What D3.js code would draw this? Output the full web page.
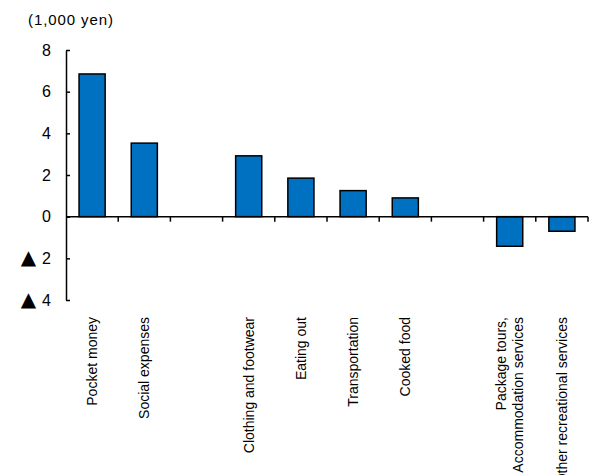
<!DOCTYPE html>
<html>
<head>
<meta charset="utf-8">
<script src="https://cdn.jsdelivr.net/npm/d3@7"></script>
<style>
  html, body { margin: 0; padding: 0; background: #fff; }
  svg { display: block; font-family: "Liberation Sans", Arial, sans-serif; }
</style>
</head>
<body>
<svg id="chart" width="590" height="475"></svg>
<script>
// Category slots along the x axis; empty strings leave a blank slot between groups.
const categories = [
  "Pocket money",
  "Social expenses",
  "",
  "Clothing and footwear",
  "Eating out",
  "Transportation",
  "Cooked food",
  "",
  "Package tours,\nAccommodation services",
  "Other recreational services"
];
// Change in spending, in thousands of yen (null = no bar).
const values = [6.85, 3.53, null, 2.92, 1.85, 1.25, 0.9, null, -1.42, -0.7];
const yTicks = [-4, -2, 0, 2, 4, 6, 8];
const unitLabel = "(1,000 yen)";

const svg = d3.select("#chart");
const plotLeft = 66, plotRight = 588, plotTop = 50, plotBottom = 300;

const x = d3.scaleBand()
  .domain(d3.range(categories.length))
  .range([plotLeft, plotRight])
  .paddingInner(0.5)
  .paddingOuter(0.25);

const y = d3.scaleLinear().domain([-4, 8]).range([plotBottom, plotTop]);

// Unit label
svg.append("text")
  .attr("x", 28).attr("y", 25)
  .attr("font-size", 15)
  .attr("letter-spacing", 0.9)
  .attr("fill", "#000")
  .text(unitLabel);

// Y axis: ticks point inward, negatives marked with ▲
const yAxis = d3.axisLeft(y)
  .tickValues(yTicks)
  .tickSizeInner(-4)
  .tickSizeOuter(0)
  .tickPadding(15)
  .tickFormat(d => String(Math.abs(d)));

const gy = svg.append("g")
  .attr("transform", `translate(${plotLeft},0)`)
  .call(yAxis);
gy.select(".domain").attr("stroke", "#000").attr("stroke-width", 1.5);
gy.selectAll(".tick line").attr("stroke", "#000").attr("stroke-width", 1.5);
gy.selectAll(".tick text")
  .attr("font-size", 16)
  .attr("font-family", "'Liberation Sans', Arial, sans-serif")
  .attr("fill", "#000")
  .each(function (d) {
    if (d >= 0) return;
    const t = d3.select(this).text(null);
    t.append("tspan").attr("font-size", 20).attr("font-family", "'DejaVu Sans', sans-serif").text("▲");
    t.append("tspan").attr("dx", 6).text(Math.abs(d));
  });

// Bars
const data = categories.map((c, i) => ({ i, c, v: values[i] })).filter(d => d.v !== null);
svg.append("g").selectAll("rect")
  .data(data)
  .join("rect")
  .attr("x", d => x(d.i))
  .attr("width", x.bandwidth())
  .attr("y", d => y(Math.max(0, d.v)))
  .attr("height", d => Math.abs(y(d.v) - y(0)))
  .attr("fill", "#0070C0")
  .attr("stroke", "#000")
  .attr("stroke-width", 1.5);

// X axis at zero, with ticks on slot boundaries
const gx = svg.append("g");
gx.append("line")
  .attr("x1", plotLeft).attr("x2", plotRight)
  .attr("y1", y(0)).attr("y2", y(0))
  .attr("stroke", "#000").attr("stroke-width", 1.5);
const step = x.step();
const boundaries = d3.range(categories.length).map(i => x(i) + x.bandwidth() + (step - x.bandwidth()) / 2);
gx.selectAll("line.tick")
  .data(boundaries)
  .join("line")
  .attr("class", "tick")
  .attr("x1", d => d).attr("x2", d => d)
  .attr("y1", y(0)).attr("y2", y(0) + 5)
  .attr("stroke", "#000").attr("stroke-width", 1.5);

// Rotated category labels hanging below the plot
const labelTop = 317, lineH = 17;
const labels = svg.append("g").attr("font-size", 14).attr("fill", "#000");
categories.forEach((c, i) => {
  if (!c) return;
  const lines = c.split("\n");
  const t = labels.append("text")
    .attr("transform", `translate(${x(i) + x.bandwidth() / 2},${labelTop}) rotate(-90)`)
    .attr("text-anchor", "end");
  lines.forEach((ln, k) => {
    t.append("tspan")
      .attr("x", 0)
      .attr("y", (k - (lines.length - 1) / 2) * lineH)
      .attr("dy", "0.35em")
      .text(ln);
  });
});
</script>
</body>
</html>
